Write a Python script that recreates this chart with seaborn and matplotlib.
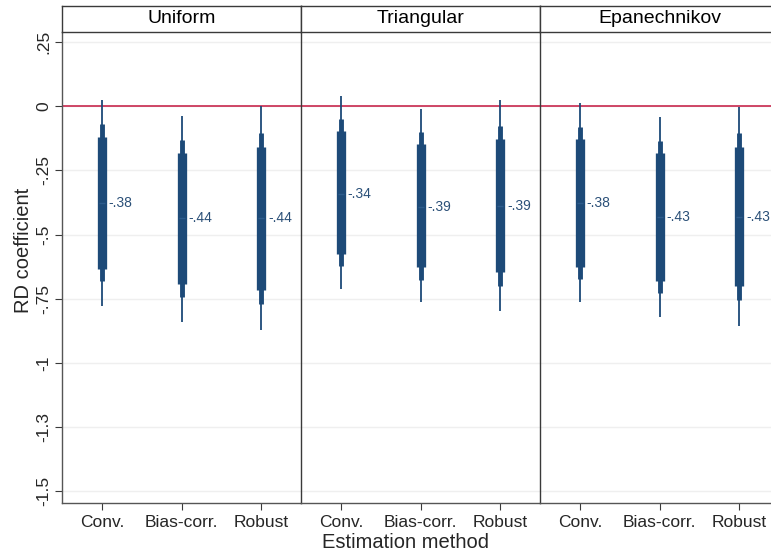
import numpy as np
import pandas as pd
import matplotlib
matplotlib.use("Agg")
import matplotlib.pyplot as plt
import seaborn as sns

kernels = ["Uniform", "Triangular", "Epanechnikov"]
methods = ["Conv.", "Bias-corr.", "Robust"]

# point estimates (kernel-major order)
coef = [-0.378, -0.437, -0.437,
        -0.342, -0.394, -0.387,
        -0.378, -0.431, -0.431]
ci99_lo = [-0.780, -0.840, -0.873, -0.712, -0.763, -0.796, -0.764, -0.821, -0.855]
ci99_hi = [0.025, -0.036, 0.000, 0.042, -0.011, 0.023, 0.015, -0.040, -0.003]
ci95_lo = [-0.681, -0.743, -0.770, -0.621, -0.676, -0.699, -0.673, -0.728, -0.754]
ci95_hi = [-0.069, -0.132, -0.102, -0.049, -0.100, -0.075, -0.079, -0.134, -0.104]
ci90_lo = [-0.633, -0.692, -0.717, -0.574, -0.628, -0.647, -0.625, -0.680, -0.702]
ci90_hi = [-0.120, -0.181, -0.158, -0.095, -0.147, -0.127, -0.128, -0.181, -0.160]

ytick_vals = [0.25, 0, -0.25, -0.5, -0.75, -1.0, -1.25, -1.5]
ytick_labels = [".25", "0", "-.25", "-.5", "-.75", "-1", "-1.3", "-1.5"]

df = pd.DataFrame({
    "kernel": np.repeat(kernels, 3),
    "method": methods * 3,
    "pos": [0, 1, 2] * 3,
    "coef": coef,
    "lo99": ci99_lo, "hi99": ci99_hi,
    "lo95": ci95_lo, "hi95": ci95_hi,
    "lo90": ci90_lo, "hi90": ci90_hi,
})

sns.set_theme(style="white")
plt.rcParams["font.family"] = ["Liberation Sans", "DejaVu Sans"]

W, H = 771, 553
fig = plt.figure(figsize=(W / 100, H / 100), dpi=100)

bar_color = "#1d4a78"
text_color = "#2b5078"
spine_color = "#3a3a3a"

left0 = 62
pw = 239
ax_bottom = H - 502.7
ax_h = 471
strip_h = 26

axes = []
for i, k in enumerate(kernels):
    ax = fig.add_axes([(left0 + pw * i) / W, ax_bottom / H, pw / W, ax_h / H])
    axes.append(ax)
    sub = df[df["kernel"] == k]
    ax.set_xlim(-0.5, 2.5)
    ax.set_ylim(-1.545, 0.291)
    for yv in ytick_vals:
        ax.axhline(yv, color="#efefef", lw=1.0, zorder=0)
    ax.axhline(0, color="#c4163f", lw=1.1, zorder=1)
    ax.vlines(sub["pos"], sub["lo99"], sub["hi99"], color=bar_color, lw=1.3, zorder=2)
    ax.vlines(sub["pos"], sub["lo95"], sub["hi95"], color=bar_color, lw=3.5, zorder=3)
    ax.vlines(sub["pos"], sub["lo90"], sub["hi90"], color=bar_color, lw=6.7, zorder=4)
    sns.scatterplot(data=sub, x="pos", y="coef", ax=ax, color="#2d5c8c",
                    marker="_", s=20, linewidth=1.0, zorder=5, legend=False)
    for _, r in sub.iterrows():
        lab = f"{r['coef']:.2f}".replace("0.", ".")
        ax.text(r["pos"] + 0.085, r["coef"], lab, color=text_color, fontsize=10,
                va="center", ha="left", zorder=6)
    ax.set_xticks([0, 1, 2])
    ax.set_xticklabels(methods, fontsize=12.5)
    ax.set_xlabel("")
    ax.set_ylabel("")
    ax.tick_params(axis="x", length=5, width=0.8, color=spine_color, pad=4, bottom=True)
    if i == 0:
        ax.set_yticks(ytick_vals)
        ax.set_yticklabels(ytick_labels, fontsize=12.5, rotation=90, va="center")
        ax.tick_params(axis="y", length=5, width=0.8, color=spine_color, pad=3, left=True)
    else:
        ax.set_yticks([])
    for s in ["top", "right"]:
        ax.spines[s].set_visible(False)
    ax.spines["left"].set_color(spine_color if i > 0 else "#555555")
    ax.spines["left"].set_linewidth(1.0)
    ax.spines["bottom"].set_color("#555555")
    ax.spines["bottom"].set_linewidth(1.0)

    sax = fig.add_axes([(left0 + pw * i) / W, (ax_bottom + ax_h) / H, pw / W, strip_h / H])
    sax.set_xticks([])
    sax.set_yticks([])
    sax.set_facecolor("white")
    for s in sax.spines.values():
        s.set_color(spine_color)
        s.set_linewidth(1.0)
    sax.text(0.5, 0.5, k, ha="center", va="center", fontsize=14, color="black",
             transform=sax.transAxes)

fig.text(24 / W, 1 - 250 / H, "RD coefficient", rotation=90, ha="center", va="center",
         fontsize=14.5)
fig.text(405 / W, 1 - 542 / H, "Estimation method", ha="center", va="center",
         fontsize=14.5)

fig.savefig("out.png", dpi=100)
